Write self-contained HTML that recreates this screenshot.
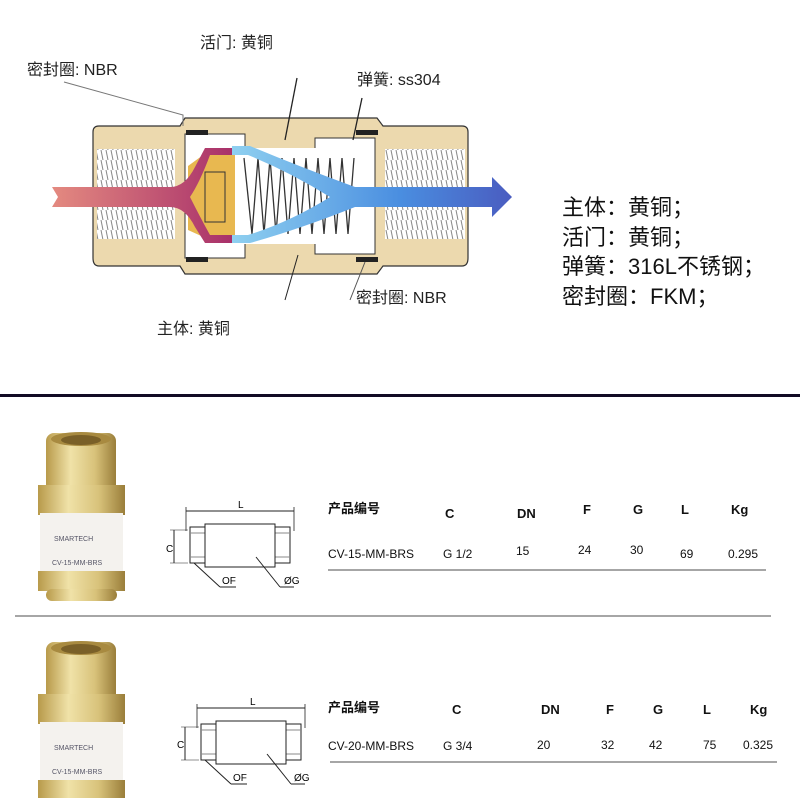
<!DOCTYPE html>
<html><head><meta charset="utf-8"><style>
html,body{margin:0;padding:0;background:#fff;}
svg{display:block;}
text{font-family:"Liberation Sans","Noto Sans CJK SC",sans-serif;}
</style></head><body>
<svg width="800" height="798" viewBox="0 0 800 798" xmlns="http://www.w3.org/2000/svg">
<defs>
<linearGradient id="inG" x1="0" x2="1"><stop offset="0" stop-color="#e48a80"/><stop offset="1" stop-color="#a8306a"/></linearGradient>
<linearGradient id="outG" x1="0" x2="1"><stop offset="0" stop-color="#8fd0f0"/><stop offset="0.6" stop-color="#4a8ee0"/><stop offset="1" stop-color="#4a5cc0"/></linearGradient>
<linearGradient id="brass" x1="0" x2="1"><stop offset="0" stop-color="#b89a4a"/><stop offset="0.35" stop-color="#f0e2a8"/><stop offset="0.7" stop-color="#d8c27a"/><stop offset="1" stop-color="#9a7e3a"/></linearGradient>
<pattern id="thr" width="5" height="10" patternUnits="userSpaceOnUse"><rect width="5" height="10" fill="#fff"/><line x1="1" y1="0" x2="3" y2="10" stroke="#888" stroke-width="1"/></pattern>
<g id="prod">
 <rect x="8" y="0" width="70" height="60" rx="8" fill="url(#brass)"/>
 <ellipse cx="43" cy="6" rx="30" ry="7" fill="#a88a40"/>
 <ellipse cx="43" cy="7" rx="20" ry="5" fill="#7a6028"/>
 <rect x="0" y="52" width="87" height="30" fill="url(#brass)"/>
 <rect x="2" y="80" width="83" height="60" fill="#f4f2ee"/>
 <rect x="0" y="138" width="87" height="20" fill="url(#brass)"/>
 <rect x="8" y="156" width="71" height="12" rx="6" fill="url(#brass)"/>
 <text x="16" y="108" font-size="7" fill="#556">SMARTECH</text>
 <text x="14" y="132" font-size="7" fill="#556">CV-15-MM-BRS</text>
</g>
<g id="dim">
 <line x1="0" y1="0" x2="108" y2="0" stroke="#222"/>
 <line x1="0" y1="-4" x2="0" y2="20" stroke="#222" stroke-width="0.8"/>
 <line x1="108" y1="-4" x2="108" y2="20" stroke="#222" stroke-width="0.8"/>
 <rect x="4" y="16" width="16" height="36" fill="#fff" stroke="#222"/>
 <rect x="88" y="16" width="16" height="36" fill="#fff" stroke="#222"/>
 <line x1="4" y1="22" x2="20" y2="22" stroke="#888"/><line x1="4" y1="46" x2="20" y2="46" stroke="#888"/>
 <line x1="88" y1="22" x2="104" y2="22" stroke="#888"/><line x1="88" y1="46" x2="104" y2="46" stroke="#888"/>
 <rect x="19" y="13" width="70" height="43" fill="#fff" stroke="#222"/>
 <line x1="-12" y1="19" x2="-12" y2="52" stroke="#222"/>
 <line x1="-16" y1="19" x2="2" y2="19" stroke="#222" stroke-width="0.6"/>
 <line x1="-16" y1="52" x2="2" y2="52" stroke="#222" stroke-width="0.6"/>
 <line x1="8" y1="52" x2="34" y2="76" stroke="#222"/><line x1="34" y1="76" x2="50" y2="76" stroke="#222"/>
 <line x1="70" y1="46" x2="94" y2="76" stroke="#222"/><line x1="94" y1="76" x2="108" y2="76" stroke="#222"/>
</g>
</defs>

<!-- valve body -->
<path d="M93 132 Q93 126 99 126 L180 126 L185 118 L377 118 L383 126 L462 126 Q468 126 468 132 L468 258 Q468 266 462 266 L383 266 L377 274 L185 274 L180 266 L99 266 Q93 266 93 258 Z" fill="#ecd9ae" stroke="#333" stroke-width="1.2"/>
<rect x="97" y="149" width="78" height="90" fill="url(#thr)"/>
<rect x="385" y="149" width="80" height="90" fill="url(#thr)"/>
<rect x="185" y="134" width="60" height="124" fill="#fff" stroke="#333"/>
<rect x="315" y="138" width="60" height="116" fill="#fff" stroke="#333"/>
<rect x="230" y="148" width="90" height="96" fill="#fff"/>
<path d="M188 166 L210 150 L235 150 L235 240 L210 240 L188 230 Z" fill="#e8b850"/>
<rect x="205" y="172" width="20" height="50" fill="#e8b850" stroke="#333"/>
<polyline points="244,158 252,234 258,158 264,234 270,158 276,234 282,158 288,234 294,158 300,234 306,158 312,234 318,158 324,234 330,158 336,234 342,158 348,234 354,158" fill="none" stroke="#333" stroke-width="1.3"/>
<rect x="186" y="130" width="22" height="5" fill="#222"/><rect x="356" y="130" width="22" height="5" fill="#222"/>
<rect x="186" y="257" width="22" height="5" fill="#222"/><rect x="356" y="257" width="22" height="5" fill="#222"/>
<!-- flow -->
<g transform="translate(0,7)">
<path d="M52 180 L170 180 Q185 180 195 160 L205 141 L232 141 L232 148 L210 148 Q200 175 190 190 Q200 210 210 228 L232 228 L232 236 L205 236 L195 220 Q185 200 170 200 L52 200 L58 190 Z" fill="url(#inG)"/>
<path d="M232 139 L250 139 Q300 160 355 180 L492 180 L492 170 L512 190 L492 210 L492 200 L355 200 Q300 222 250 236 L232 236 L232 228 L248 228 Q290 215 330 190 Q290 165 248 148 L232 148 Z" fill="url(#outG)"/>
</g>
<!-- leaders -->
<polyline points="64,82 183,115 183,126" fill="none" stroke="#777" stroke-width="1"/>
<line x1="297" y1="78" x2="285" y2="140" stroke="#222" stroke-width="1.3"/>
<line x1="362" y1="98" x2="353" y2="140" stroke="#222" stroke-width="1.3"/>
<line x1="298" y1="255" x2="285" y2="300" stroke="#222"/>
<line x1="365" y1="262" x2="350" y2="300" stroke="#555"/>
<text x="200" y="48" font-size="16" fill="#222">活门: 黄铜</text>
<text x="27" y="75" font-size="16" fill="#222">密封圈: NBR</text>
<text x="357" y="85" font-size="16" fill="#222">弹簧: ss304</text>
<text x="356" y="303" font-size="16" fill="#222">密封圈: NBR</text>
<text x="157" y="334" font-size="16" fill="#222">主体: 黄铜</text>
<g font-size="22" fill="#111">
<text x="562" y="215">主体：黄铜；</text>
<text x="562" y="245">活门：黄铜；</text>
<text x="562" y="274">弹簧：316L不锈钢；</text>
<text x="562" y="304">密封圈：FKM；</text>
</g>
<rect x="0" y="394" width="800" height="3" fill="#120a24"/>

<!-- row1 -->
<use href="#prod" x="38" y="433"/>
<use href="#dim" x="186" y="511"/>
<text x="238" y="508" font-size="10">L</text>
<text x="166" y="552" font-size="10">C</text>
<text x="222" y="584" font-size="10">OF</text>
<text x="284" y="584" font-size="10">ØG</text>
<g font-size="13" font-weight="bold" fill="#111">
<text x="328" y="513">产品编号</text><text x="445" y="518">C</text><text x="517" y="518">DN</text>
<text x="583" y="514">F</text><text x="633" y="514">G</text><text x="681" y="514">L</text><text x="731" y="514">Kg</text>
</g>
<g font-size="12" fill="#111">
<text x="328" y="558">CV-15-MM-BRS</text><text x="443" y="558">G 1/2</text><text x="516" y="555">15</text>
<text x="578" y="554">24</text><text x="630" y="554">30</text><text x="680" y="558">69</text><text x="728" y="558">0.295</text>
</g>
<line x1="328" y1="570" x2="766" y2="570" stroke="#888" stroke-width="1.5"/>
<line x1="15" y1="616" x2="771" y2="616" stroke="#888" stroke-width="1.5"/>

<!-- row2 -->
<use href="#prod" x="38" y="642"/>
<use href="#dim" x="197" y="708"/>
<text x="250" y="705" font-size="10">L</text>
<text x="177" y="748" font-size="10">C</text>
<text x="233" y="781" font-size="10">OF</text>
<text x="294" y="781" font-size="10">ØG</text>
<g font-size="13" font-weight="bold" fill="#111">
<text x="328" y="712">产品编号</text><text x="452" y="714">C</text><text x="541" y="714">DN</text>
<text x="606" y="714">F</text><text x="653" y="714">G</text><text x="703" y="714">L</text><text x="750" y="714">Kg</text>
</g>
<g font-size="12" fill="#111">
<text x="328" y="750">CV-20-MM-BRS</text><text x="443" y="750">G 3/4</text><text x="537" y="749">20</text>
<text x="601" y="749">32</text><text x="649" y="749">42</text><text x="703" y="749">75</text><text x="743" y="749">0.325</text>
</g>
<line x1="330" y1="762" x2="777" y2="762" stroke="#888" stroke-width="1.5"/>
</svg>
</body></html>
